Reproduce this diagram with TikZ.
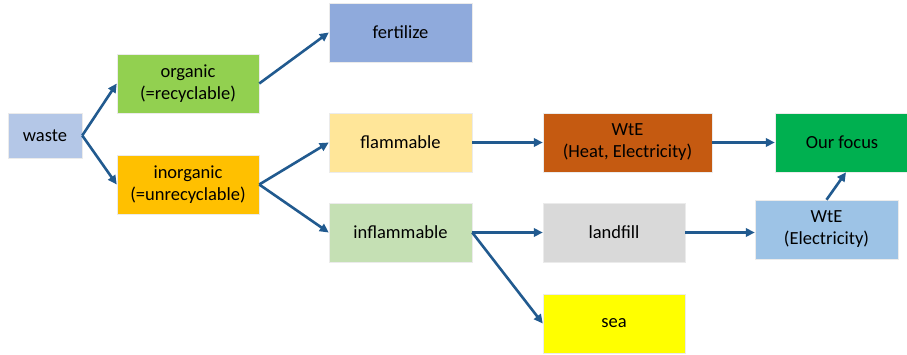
\documentclass[tikz,border=0pt]{standalone}
\usepackage{fontspec}
\setmainfont{Carlito}
\usetikzlibrary{arrows.meta}
\definecolor{cwaste}{HTML}{B4C7E7}
\definecolor{corganic}{HTML}{92D050}
\definecolor{cinorg}{HTML}{FFC000}
\definecolor{cfert}{HTML}{8FAADC}
\definecolor{cflam}{HTML}{FFE699}
\definecolor{cinflam}{HTML}{C5E0B4}
\definecolor{cwteh}{HTML}{C55A11}
\definecolor{cland}{HTML}{D9D9D9}
\definecolor{csea}{HTML}{FFFF00}
\definecolor{cfocus}{HTML}{00B050}
\definecolor{cwtee}{HTML}{9DC3E6}
\definecolor{carrow}{HTML}{215A8F}
\begin{document}
\begin{tikzpicture}[x=1pt,y=-1pt,
  box/.style={draw=white!92!black, line width=0.5pt, inner sep=0pt, align=center,
    font=\fontsize{18.5}{22}\selectfont, text=black},
  conn/.style={draw=carrow, line width=2.6pt, -{Triangle[length=9pt,width=8.5pt]}}]
\useasboundingbox (0,0) rectangle (907,354);
\fill[white] (0,0) rectangle (907,354);
\node[box, fill=cwaste, minimum width=74pt, minimum height=45pt] (waste) at (45,135.5) {waste};
\node[box, fill=corganic, minimum width=142pt, minimum height=59pt] (organic) at (188,83.5) {organic\\(=recyclable)};
\node[box, fill=cinorg, minimum width=142pt, minimum height=59pt] (inorg) at (188,184.5) {inorganic\\(=unrecyclable)};
\node[box, fill=cfert, minimum width=143pt, minimum height=59pt] (fert) at (400.5,32.5) {fertilize};
\node[box, fill=cflam, minimum width=143pt, minimum height=59pt] (flam) at (400.5,142.5) {flammable};
\node[box, fill=cinflam, minimum width=143pt, minimum height=59pt] (inflam) at (400.5,232.5) {inflammable};
\node[box, fill=cwteh, minimum width=169pt, minimum height=59pt] (wteh) at (627.5,142.5) {WtE\\(Heat, Electricity)};
\node[box, fill=cland, minimum width=142pt, minimum height=59pt] (land) at (614,232.5) {landfill};
\node[box, fill=csea, minimum width=142pt, minimum height=59pt] (sea) at (614,323.5) {sea};
\node[box, fill=cfocus, minimum width=134pt, minimum height=59pt] (focus) at (842,142.5) {Our focus};
\node[box, fill=cwtee, minimum width=143pt, minimum height=59pt] (wtee) at (826.5,229.5) {WtE\\(Electricity)};
\draw[conn] (waste.east) -- (organic.west);
\draw[conn] (waste.east) -- (inorg.west);
\draw[conn] (organic.east) -- (fert.west);
\draw[conn] (inorg.east) -- (flam.west);
\draw[conn] (inorg.east) -- (inflam.west);
\draw[conn] (flam.east) -- (wteh.west);
\draw[conn] (inflam.east) -- (land.west);
\draw[conn] (inflam.east) -- (sea.west);
\draw[conn] (wteh.east) -- (focus.west);
\draw[conn] (land.east) -- (land.east -| wtee.west);
\draw[conn] (wtee.north) -- ([xshift=4pt]focus.south);
\end{tikzpicture}
\end{document}
